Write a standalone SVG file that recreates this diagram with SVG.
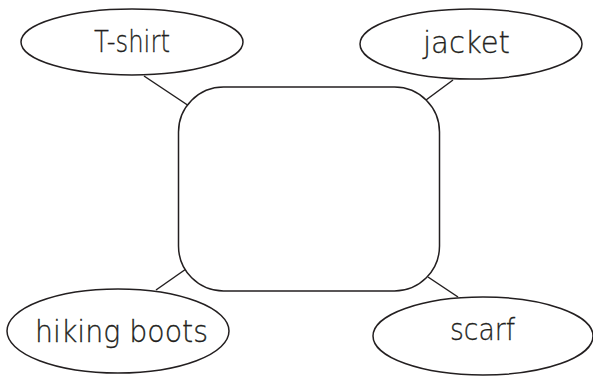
<svg xmlns="http://www.w3.org/2000/svg" width="593" height="377" viewBox="0 0 593 377">
  <style>
    .node ellipse, .node rect { fill: #ffffff; stroke: #231f20; stroke-width: 1.5; }
    .label { font-family: "DejaVu Sans", "Liberation Sans", sans-serif; font-weight: 300; font-size: 30px; fill: #231f20; text-anchor: middle; stroke: #231f20; stroke-width: 0.3; }
    #connectors line { stroke: #231f20; stroke-width: 1.5; }
  </style>
  <rect width="593" height="377" fill="#ffffff"/>
  <g id="connectors">
    <line x1="144" y1="76" x2="189" y2="106"/>
    <line x1="453" y1="80" x2="426" y2="100"/>
    <line x1="156" y1="290" x2="186" y2="269"/>
    <line x1="428" y1="277" x2="458" y2="297"/>
  </g>
  <g id="center" class="node">
    <rect x="178.5" y="87" width="261" height="204" rx="45" ry="45"/>
  </g>
  <g id="tshirt" class="node">
    <ellipse cx="132" cy="42" rx="111" ry="33"/>
    <text class="label" x="132" y="52" textLength="76" lengthAdjust="spacingAndGlyphs">T-shirt</text>
  </g>
  <g id="jacket" class="node">
    <ellipse cx="471" cy="44" rx="111" ry="35"/>
    <text class="label" x="466.5" y="53" textLength="87" lengthAdjust="spacingAndGlyphs">jacket</text>
  </g>
  <g id="hiking-boots" class="node">
    <ellipse cx="118" cy="331" rx="111" ry="42"/>
    <text class="label" x="121.5" y="342" textLength="173" lengthAdjust="spacingAndGlyphs">hiking boots</text>
  </g>
  <g id="scarf" class="node">
    <ellipse cx="483" cy="336" rx="110" ry="39"/>
    <text class="label" x="482.5" y="340" textLength="65" lengthAdjust="spacingAndGlyphs">scarf</text>
  </g>
</svg>
